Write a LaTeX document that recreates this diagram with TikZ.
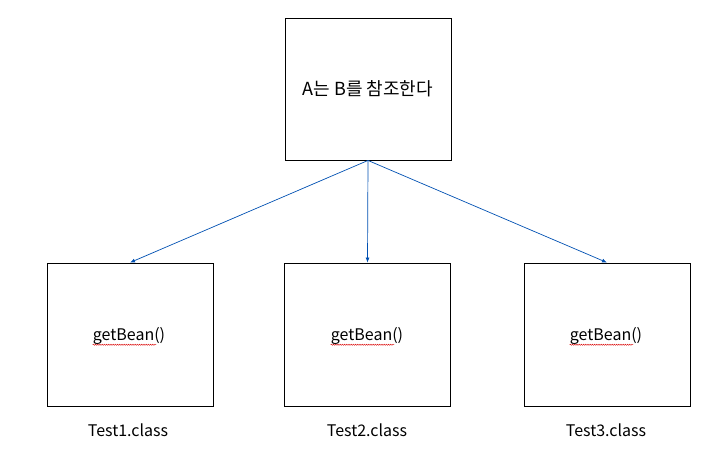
\documentclass[tikz,border=0pt]{standalone}
\usepackage{fontspec}
\setmainfont{Noto Sans CJK KR}
\usetikzlibrary{positioning,arrows.meta,decorations.pathmorphing}

\begin{document}
\begin{tikzpicture}[x=1pt,y=-1pt,
        classbox/.style={draw=black, line width=0.9pt, minimum width=166pt, minimum height=143pt, inner sep=0pt, font=\fontsize{16}{19}\selectfont},
        classname/.style={font=\fontsize{16}{19}\selectfont},
        refarrow/.style={draw=blue!55!cyan!70!black, line width=0.7pt, -{Latex[length=5pt,width=4pt]}},
        squiggle/.style={draw=red!85!black, line width=0.4pt, decorate, decoration={snake, amplitude=0.6pt, segment length=2.2pt}}]

        \useasboundingbox (0,0) rectangle (720,459);

        % reference box
        \node[classbox, minimum height=142pt, font=\fontsize{18}{21}\selectfont] (ref) at (368,89) {A는 B를 참조한다};

        % classes
        \node[classbox] (c1) at (130,334.5) {\phantom{x}};
        \node[classbox] (c2) at (367.5,334.5) {\phantom{x}};
        \node[classbox] (c3) at (607,334.5) {\phantom{x}};

        \node[classname, inner sep=0pt] (m1) at (129,336) {getBean()};
        \node[classname, inner sep=0pt] (m2) at (367,336) {getBean()};
        \node[classname, inner sep=0pt] (m3) at (606,336) {getBean()};

        \draw[squiggle] (m1.south west) -- ([xshift=-9pt]m1.south east);
        \draw[squiggle] (m2.south west) -- ([xshift=-9pt]m2.south east);
        \draw[squiggle] (m3.south west) -- ([xshift=-9pt]m3.south east);

        \node[classname] (t1) at (128,430) {Test1.class};
        \node[classname] (t2) at (367,430) {Test2.class};
        \node[classname] (t3) at (606,430) {Test3.class};

        % references
        \draw[refarrow] (ref.south) -- (c1.north);
        \draw[refarrow] (ref.south) -- (c2.north);
        \draw[refarrow] (ref.south) -- (c3.north);

\end{tikzpicture}
\end{document}
